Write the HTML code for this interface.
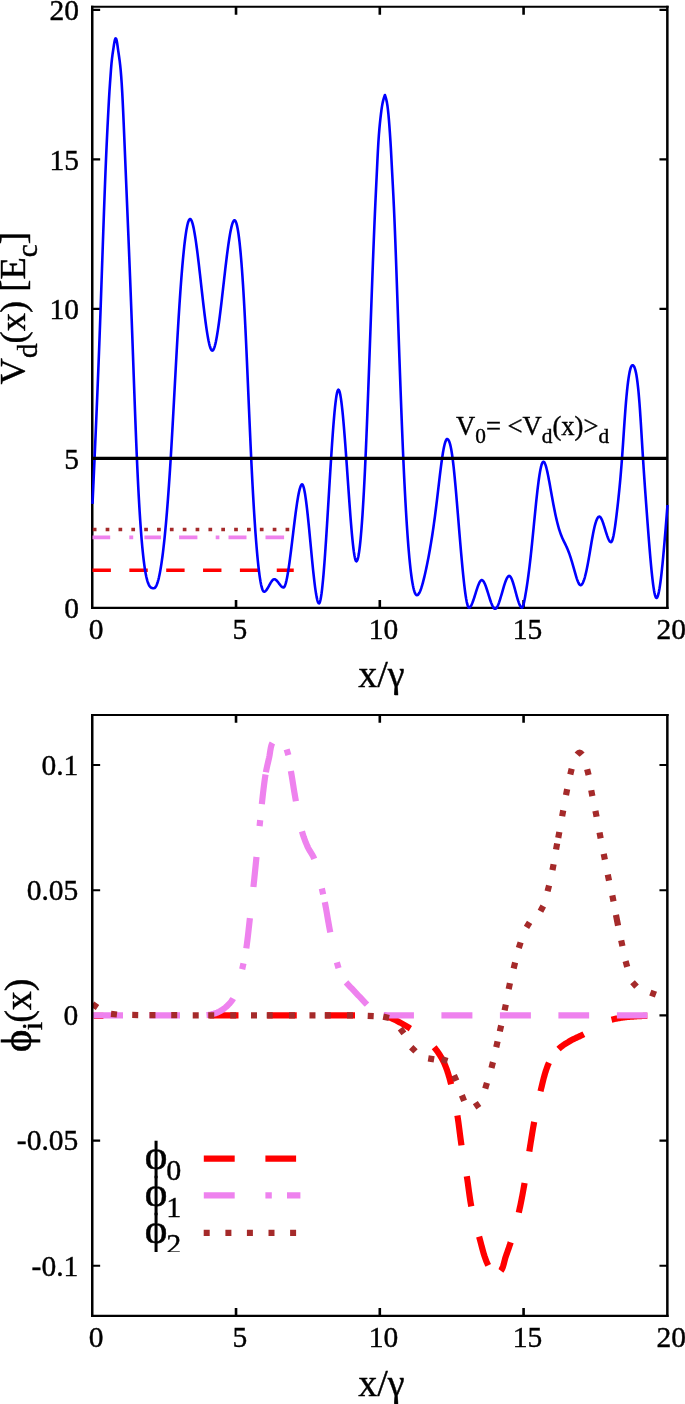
<!DOCTYPE html>
<html><head><meta charset="utf-8"><title>plot</title>
<style>html,body{margin:0;padding:0;background:#fff}svg{display:block}text{font-family:"Liberation Serif","DejaVu Serif",serif;fill:#000;stroke:#000;stroke-width:0.4px}</style></head><body>
<svg width="685" height="1404" viewBox="0 0 685 1404">
<rect width="685" height="1404" fill="#fff"/>
<g id="top">
<path d="M236.03 607.9v-7.9M236.03 6.75v7.9M379.8 607.9v-7.9M379.8 6.75v7.9M523.58 607.9v-7.9M523.58 6.75v7.9" stroke="#000" stroke-width="2.6" fill="none"/><path d="M92.25 458.4h7.9M667.35 458.4h-7.9M92.25 308.9h7.9M667.35 308.9h-7.9M92.25 159.4h7.9M667.35 159.4h-7.9M92.25 9.9h7.9M667.35 9.9h-7.9" stroke="#000" stroke-width="2.1" fill="none"/>
<path d="M92.25 5.7V608.95M667.35 5.7V608.95" stroke="#000" stroke-width="2.5" fill="none"/><path d="M91 6.75H668.6M91 607.9H668.6" stroke="#000" stroke-width="2.1" fill="none"/>
<path d="M92.5 570.23H293.75" stroke="#ff0000" stroke-width="3.6" stroke-dasharray="18.4 18.45" fill="none"/>
<path d="M92.5 537.34H110.2M129.3 537.34H133.2M144.4 537.34H161M179.1 537.34H197.4M215.7 537.34H219.4M228.5 537.34H246.5M265.5 537.34H284.1" stroke="#ee82ee" stroke-width="3.6" fill="none"/>
<path d="M92.8 529.56H293.75" stroke="#a52a2a" stroke-width="3.6" stroke-dasharray="3.7 9.15" fill="none"/>
<path d="M92.5 503.9 L93 492.9 L93.5 481.88 L94 470.82 L94.5 459.68 L95 448.44 L95.5 437.09 L96 425.58 L96.5 413.92 L97 402.06 L97.5 389.98 L98 377.66 L98.5 365.08 L99 352.21 L99.5 339.03 L100 325.51 L100.5 311.63 L101 297.45 L101.5 283.04 L102 268.52 L102.5 253.97 L103 239.49 L103.5 225.18 L104 211.14 L104.5 197.45 L105 184.22 L105.5 171.53 L106 159.5 L106.5 148.17 L107 137.47 L107.5 127.29 L108 117.5 L108.5 108 L109 98.81 L109.5 90.54 L110 83.28 L110.5 76.29 L111 69.43 L111.5 63.39 L112 58.6 L112.5 54.7 L113 51.25 L113.5 47.84 L114 44.5 L114.5 41.6 L115 39.49 L115.5 38.4 L115.7 38.3 L116.2 38.88 L116.7 40.6 L117.2 43.41 L117.7 46.95 L118.2 50.62 L118.7 54.06 L119.2 57.48 L119.7 61.17 L120.2 65.4 L120.7 70.43 L121.2 76.41 L121.7 83.49 L122.2 91.86 L122.7 101.62 L123.2 112.39 L123.7 123.73 L124.2 135.47 L124.7 147.44 L125.2 159.5 L125.7 171.51 L126.2 183.47 L126.7 195.41 L127.2 207.36 L127.7 219.34 L128.2 231.4 L128.7 243.54 L129.2 255.81 L129.7 268.23 L130.2 280.83 L130.7 293.64 L131.2 306.69 L131.7 320 L132.2 333.59 L132.7 347.38 L133.2 361.28 L133.7 375.19 L134.2 389.03 L134.7 402.69 L135.2 416.09 L135.7 429.13 L136.2 441.72 L136.7 453.76 L137.2 465.16 L137.7 475.91 L138.2 486.01 L138.7 495.48 L139.2 504.35 L139.7 512.64 L140.2 520.36 L140.7 527.54 L141.2 534.19 L141.7 540.33 L142.2 546 L142.7 551.19 L143.2 555.94 L143.7 560.27 L144.2 564.19 L144.7 567.73 L145.2 570.9 L145.7 573.72 L146.2 576.22 L146.7 578.42 L147.2 580.32 L147.7 581.97 L148.2 583.36 L148.7 584.53 L149.2 585.5 L149.7 586.28 L150.2 586.89 L150.7 587.36 L151.2 587.7 L151.7 587.93 L152.2 588.08 L152.7 588.16 L153.2 588.19 L153.7 588.2 L153.9 588.2 L154.4 588.1 L154.9 587.79 L155.4 587.27 L155.9 586.54 L156.4 585.59 L156.9 584.43 L157.4 583.05 L157.9 581.45 L158.4 579.62 L158.9 577.57 L159.4 575.3 L159.9 572.79 L160.4 570.06 L160.9 567.08 L161.4 563.88 L161.9 560.43 L162.4 556.74 L162.9 552.82 L163.4 548.64 L163.9 544.22 L164.4 539.55 L164.9 534.63 L165.4 529.45 L165.9 524.02 L166.4 518.33 L166.9 512.38 L167.4 506.16 L167.9 499.68 L168.4 492.94 L168.9 485.92 L169.4 478.63 L169.9 471.07 L170.4 463.24 L170.9 455.12 L171.4 446.74 L171.9 438.13 L172.4 429.33 L172.9 420.37 L173.4 411.29 L173.9 402.12 L174.4 392.9 L174.9 383.67 L175.4 374.46 L175.9 365.3 L176.4 356.24 L176.9 347.31 L177.4 338.54 L177.9 329.97 L178.4 321.64 L178.9 313.57 L179.4 305.79 L179.9 298.3 L180.4 291.11 L180.9 284.22 L181.4 277.64 L181.9 271.37 L182.4 265.42 L182.9 259.81 L183.4 254.52 L183.9 249.58 L184.4 244.98 L184.9 240.73 L185.4 236.85 L185.9 233.32 L186.4 230.17 L186.9 227.4 L187.4 225.01 L187.9 223.01 L188.4 221.41 L188.9 220.21 L189.4 219.41 L189.9 219.03 L190.1 219 L190.6 219.2 L191.1 219.78 L191.6 220.74 L192.1 222.04 L192.6 223.68 L193.1 225.62 L193.6 227.86 L194.1 230.38 L194.6 233.16 L195.1 236.17 L195.6 239.41 L196.1 242.85 L196.6 246.47 L197.1 250.26 L197.6 254.2 L198.1 258.26 L198.6 262.44 L199.1 266.71 L199.6 271.05 L200.1 275.45 L200.6 279.88 L201.1 284.34 L201.6 288.79 L202.1 293.23 L202.6 297.64 L203.1 301.98 L203.6 306.26 L204.1 310.44 L204.6 314.52 L205.1 318.46 L205.6 322.26 L206.1 325.9 L206.6 329.35 L207.1 332.61 L207.6 335.65 L208.1 338.46 L208.6 341.03 L209.1 343.32 L209.6 345.34 L210.1 347.05 L210.6 348.45 L211.1 349.51 L211.6 350.22 L212.1 350.57 L212.3 350.6 L212.8 350.41 L213.3 349.83 L213.8 348.9 L214.3 347.63 L214.8 346.04 L215.3 344.13 L215.8 341.94 L216.3 339.48 L216.8 336.76 L217.3 333.81 L217.8 330.64 L218.3 327.27 L218.8 323.72 L219.3 320 L219.8 316.13 L220.3 312.14 L220.8 308.03 L221.3 303.82 L221.8 299.55 L222.3 295.21 L222.8 290.83 L223.3 286.43 L223.8 282.03 L224.3 277.64 L224.8 273.28 L225.3 268.97 L225.8 264.73 L226.3 260.57 L226.8 256.52 L227.3 252.59 L227.8 248.8 L228.3 245.16 L228.8 241.7 L229.3 238.44 L229.8 235.38 L230.3 232.55 L230.8 229.97 L231.3 227.66 L231.8 225.63 L232.3 223.89 L232.8 222.48 L233.3 221.4 L233.8 220.68 L234.3 220.33 L234.5 220.3 L235 220.51 L235.5 221.14 L236 222.2 L236.5 223.68 L237 225.61 L237.5 227.98 L238 230.79 L238.5 234.06 L239 237.78 L239.5 241.97 L240 246.62 L240.5 251.75 L241 257.35 L241.5 263.44 L242 270.01 L242.5 277.08 L243 284.65 L243.5 292.72 L244 301.3 L244.5 310.39 L245 320 L245.5 330.12 L246 340.69 L246.5 351.63 L247 362.87 L247.5 374.32 L248 385.92 L248.5 397.58 L249 409.22 L249.5 420.78 L250 432.18 L250.5 443.33 L251 454.17 L251.5 464.62 L252 474.64 L252.5 484.24 L253 493.42 L253.5 502.18 L254 510.52 L254.5 518.45 L255 525.96 L255.5 533.05 L256 539.73 L256.5 546.01 L257 551.87 L257.5 557.32 L258 562.37 L258.5 567.01 L259 571.24 L259.5 575.08 L260 578.51 L260.5 581.54 L261 584.18 L261.5 586.42 L262 588.26 L262.5 589.7 L263 590.76 L263.5 591.42 L264 591.69 L264.1 591.7 L264.6 591.61 L265.1 591.36 L265.6 590.97 L266.1 590.45 L266.6 589.82 L267.1 589.09 L267.6 588.29 L268.1 587.44 L268.6 586.55 L269.1 585.63 L269.6 584.72 L270.1 583.81 L270.6 582.94 L271.1 582.12 L271.6 581.36 L272.1 580.69 L272.6 580.13 L273.1 579.68 L273.6 579.37 L274.1 579.21 L274.3 579.2 L274.8 579.27 L275.3 579.47 L275.8 579.79 L276.3 580.21 L276.8 580.71 L277.3 581.27 L277.8 581.89 L278.3 582.54 L278.8 583.21 L279.3 583.89 L279.8 584.55 L280.3 585.19 L280.8 585.77 L281.3 586.3 L281.8 586.75 L282.3 587.11 L282.8 587.36 L283.3 587.49 L283.5 587.5 L284 587.28 L284.5 586.64 L285 585.6 L285.5 584.18 L286 582.41 L286.5 580.32 L287 577.92 L287.5 575.25 L288 572.32 L288.5 569.15 L289 565.79 L289.5 562.24 L290 558.53 L290.5 554.68 L291 550.73 L291.5 546.69 L292 542.59 L292.5 538.44 L293 534.29 L293.5 530.14 L294 526.03 L294.5 521.97 L295 518 L295.5 514.13 L296 510.39 L296.5 506.81 L297 503.4 L297.5 500.2 L298 497.22 L298.5 494.49 L299 492.04 L299.5 489.88 L300 488.05 L300.5 486.56 L301 485.44 L301.5 484.71 L302 484.41 L302.1 484.4 L302.6 484.71 L303.1 485.6 L303.6 487.05 L304.1 489.01 L304.6 491.44 L305.1 494.32 L305.6 497.6 L306.1 501.24 L306.6 505.22 L307.1 509.49 L307.6 514.01 L308.1 518.75 L308.6 523.67 L309.1 528.74 L309.6 533.91 L310.1 539.15 L310.6 544.43 L311.1 549.7 L311.6 554.93 L312.1 560.09 L312.6 565.13 L313.1 570.02 L313.6 574.72 L314.1 579.19 L314.6 583.4 L315.1 587.31 L315.6 590.89 L316.1 594.09 L316.6 596.88 L317.1 599.23 L317.6 601.09 L318.1 602.42 L318.6 603.2 L319 603.4 L319.5 602.99 L320 601.77 L320.5 599.8 L321 597.12 L321.5 593.77 L322 589.79 L322.5 585.22 L323 580.12 L323.5 574.52 L324 568.46 L324.5 561.99 L325 555.15 L325.5 547.98 L326 540.54 L326.5 532.85 L327 524.96 L327.5 516.93 L328 508.78 L328.5 500.56 L329 492.32 L329.5 484.09 L330 475.93 L330.5 467.87 L331 459.96 L331.5 452.24 L332 444.76 L332.5 437.55 L333 430.67 L333.5 424.17 L334 418.09 L334.5 412.47 L335 407.36 L335.5 402.8 L336 398.85 L336.5 395.54 L337 392.93 L337.5 391.06 L338 389.97 L338.4 389.7 L338.9 390.07 L339.4 391.17 L339.9 392.95 L340.4 395.38 L340.9 398.4 L341.4 401.99 L341.9 406.09 L342.4 410.68 L342.9 415.7 L343.4 421.13 L343.9 426.91 L344.4 433.02 L344.9 439.4 L345.4 446.02 L345.9 452.83 L346.4 459.81 L346.9 466.89 L347.4 474.05 L347.9 481.22 L348.4 488.38 L348.9 495.46 L349.4 502.42 L349.9 509.21 L350.4 515.8 L350.9 522.12 L351.4 528.15 L351.9 533.81 L352.4 539.09 L352.9 543.91 L353.4 548.24 L353.9 552.04 L354.4 555.25 L354.9 557.83 L355.4 559.72 L355.9 560.9 L356.4 561.3 L356.9 560.98 L357.4 560.02 L357.9 558.42 L358.4 556.2 L358.9 553.34 L359.4 549.86 L359.9 545.76 L360.4 541.04 L360.9 535.7 L361.4 529.75 L361.9 523.2 L362.4 516.04 L362.9 508.29 L363.4 499.93 L363.9 490.98 L364.4 481.44 L364.9 471.32 L365.4 460.61 L365.9 449.33 L366.4 437.52 L366.9 425.23 L367.4 412.54 L367.9 399.49 L368.4 386.16 L368.9 372.59 L369.4 358.86 L369.9 345.01 L370.4 331.11 L370.9 317.23 L371.4 303.41 L371.9 289.72 L372.4 276.22 L372.9 262.97 L373.4 250.02 L373.9 237.45 L374.4 225.3 L374.9 213.64 L375.4 202.52 L375.9 191.89 L376.4 181.53 L376.9 171.24 L377.4 160.8 L377.9 150.7 L378.4 142 L378.9 134.75 L379.4 128.69 L379.9 123.45 L380.4 118.69 L380.9 114.29 L381.4 110.34 L381.9 106.9 L382.4 104.02 L382.9 101.63 L383.4 99.63 L383.9 97.92 L384.4 96.41 L384.9 95 L385.4 96.44 L385.9 98.04 L386.4 99.97 L386.9 102.38 L387.4 105.45 L387.9 109.33 L388.4 114.07 L388.9 119.66 L389.4 126.06 L389.9 133.13 L390.4 140.69 L390.9 148.93 L391.4 158.21 L391.9 167.88 L392.4 177.3 L392.9 186.73 L393.4 196.49 L393.9 206.9 L394.4 218.22 L394.9 230.39 L395.4 243.28 L395.9 256.78 L396.4 270.74 L396.9 285.04 L397.4 299.56 L397.9 314.16 L398.4 328.73 L398.9 343.17 L399.4 357.46 L399.9 371.53 L400.4 385.36 L400.9 398.89 L401.4 412.09 L401.9 424.91 L402.4 437.3 L402.9 449.23 L403.4 460.64 L403.9 471.52 L404.4 481.86 L404.9 491.67 L405.4 500.98 L405.9 509.77 L406.4 518.08 L406.9 525.89 L407.4 533.23 L407.9 540.11 L408.4 546.53 L408.9 552.5 L409.4 558.03 L409.9 563.14 L410.4 567.83 L410.9 572.11 L411.4 575.99 L411.9 579.49 L412.4 582.61 L412.9 585.35 L413.4 587.74 L413.9 589.78 L414.4 591.47 L414.9 592.84 L415.4 593.89 L415.9 594.62 L416.4 595.06 L416.9 595.2 L417.4 595.09 L417.9 594.79 L418.4 594.28 L418.9 593.59 L419.4 592.73 L419.9 591.7 L420.4 590.51 L420.9 589.18 L421.4 587.72 L421.9 586.12 L422.4 584.41 L422.9 582.59 L423.4 580.68 L423.9 578.67 L424.4 576.59 L424.9 574.44 L425.4 572.23 L425.9 569.96 L426.4 567.63 L426.9 565.23 L427.4 562.78 L427.9 560.25 L428.4 557.66 L428.9 555 L429.4 552.26 L429.9 549.45 L430.4 546.57 L430.9 543.6 L431.4 540.55 L431.9 537.42 L432.4 534.2 L432.9 530.88 L433.4 527.46 L433.9 523.94 L434.4 520.3 L434.9 516.55 L435.4 512.69 L435.9 508.74 L436.4 504.71 L436.9 500.6 L437.4 496.43 L437.9 492.2 L438.4 487.93 L438.9 483.66 L439.4 479.41 L439.9 475.21 L440.4 471.1 L440.9 467.11 L441.4 463.28 L441.9 459.63 L442.4 456.2 L442.9 453.03 L443.4 450.13 L443.9 447.52 L444.4 445.23 L444.9 443.27 L445.4 441.65 L445.9 440.4 L446.4 439.54 L446.9 439.08 L447.2 439 L447.7 439.15 L448.2 439.6 L448.7 440.37 L449.2 441.46 L449.7 442.89 L450.2 444.67 L450.7 446.8 L451.2 449.31 L451.7 452.2 L452.2 455.48 L452.7 459.17 L453.2 463.26 L453.7 467.71 L454.2 472.5 L454.7 477.58 L455.2 482.91 L455.7 488.46 L456.2 494.19 L456.7 500.06 L457.2 506.04 L457.7 512.09 L458.2 518.16 L458.7 524.24 L459.2 530.3 L459.7 536.31 L460.2 542.26 L460.7 548.11 L461.2 553.85 L461.7 559.45 L462.2 564.88 L462.7 570.12 L463.2 575.15 L463.7 579.93 L464.2 584.44 L464.7 588.64 L465.2 592.5 L465.7 595.99 L466.2 599.08 L466.7 601.74 L467.2 603.95 L467.7 605.66 L468.2 606.85 L468.7 607.49 L469 607.6 L469.5 607.48 L470 607.12 L470.5 606.56 L471 605.8 L471.5 604.86 L472 603.78 L472.5 602.56 L473 601.22 L473.5 599.79 L474 598.29 L474.5 596.73 L475 595.14 L475.5 593.53 L476 591.92 L476.5 590.34 L477 588.8 L477.5 587.33 L478 585.93 L478.5 584.64 L479 583.47 L479.5 582.44 L480 581.58 L480.5 580.89 L481 580.41 L481.5 580.14 L481.8 580.1 L482.3 580.22 L482.8 580.56 L483.3 581.11 L483.8 581.85 L484.3 582.76 L484.8 583.82 L485.3 585.02 L485.8 586.33 L486.3 587.73 L486.8 589.22 L487.3 590.76 L487.8 592.35 L488.3 593.96 L488.8 595.58 L489.3 597.19 L489.8 598.76 L490.3 600.28 L490.8 601.74 L491.3 603.11 L491.8 604.38 L492.3 605.52 L492.8 606.52 L493.3 607.37 L493.8 608.03 L494.3 608.5 L494.8 608.76 L495.1 608.8 L495.6 608.68 L496.1 608.33 L496.6 607.76 L497.1 607 L497.6 606.06 L498.1 604.97 L498.6 603.72 L499.1 602.36 L499.6 600.89 L500.1 599.32 L500.6 597.69 L501.1 596 L501.6 594.27 L502.1 592.52 L502.6 590.78 L503.1 589.05 L503.6 587.35 L504.1 585.7 L504.6 584.12 L505.1 582.63 L505.6 581.24 L506.1 579.97 L506.6 578.84 L507.1 577.87 L507.6 577.07 L508.1 576.47 L508.6 576.07 L509.1 575.9 L509.2 575.9 L509.7 576.04 L510.2 576.45 L510.7 577.1 L511.2 577.98 L511.7 579.06 L512.2 580.31 L512.7 581.71 L513.2 583.25 L513.7 584.9 L514.2 586.63 L514.7 588.43 L515.2 590.27 L515.7 592.12 L516.2 593.97 L516.7 595.8 L517.2 597.57 L517.7 599.27 L518.2 600.88 L518.7 602.37 L519.2 603.71 L519.7 604.9 L520.2 605.9 L520.7 606.69 L521.2 607.24 L521.7 607.55 L522 607.6 L522.5 607.23 L523 606.18 L523.5 604.57 L524 602.5 L524.5 600.07 L525 597.4 L525.5 594.57 L526 591.61 L526.5 588.49 L527 585.23 L527.5 581.82 L528 578.26 L528.5 574.54 L529 570.65 L529.5 566.61 L530 562.39 L530.5 558.01 L531 553.46 L531.5 548.74 L532 543.89 L532.5 538.93 L533 533.9 L533.5 528.82 L534 523.72 L534.5 518.63 L535 513.58 L535.5 508.6 L536 503.72 L536.5 498.97 L537 494.37 L537.5 489.97 L538 485.78 L538.5 481.85 L539 478.2 L539.5 474.86 L540 471.85 L540.5 469.19 L541 466.91 L541.5 465.01 L542 463.52 L542.5 462.46 L543 461.85 L543.4 461.7 L543.9 461.9 L544.4 462.47 L544.9 463.39 L545.4 464.63 L545.9 466.16 L546.4 467.94 L546.9 469.95 L547.4 472.15 L547.9 474.53 L548.4 477.04 L548.9 479.66 L549.4 482.35 L549.9 485.1 L550.4 487.88 L550.9 490.67 L551.4 493.47 L551.9 496.26 L552.4 499.03 L552.9 501.76 L553.4 504.45 L553.9 507.06 L554.4 509.61 L554.9 512.06 L555.4 514.43 L555.9 516.72 L556.4 518.91 L556.9 521.02 L557.4 523.03 L557.9 524.95 L558.4 526.78 L558.9 528.52 L559.4 530.16 L559.9 531.7 L560.4 533.15 L560.9 534.51 L561.4 535.79 L561.9 537 L562.4 538.16 L562.9 539.27 L563.4 540.33 L563.9 541.38 L564.4 542.4 L564.9 543.42 L565.4 544.44 L565.9 545.47 L566.4 546.53 L566.9 547.62 L567.4 548.76 L567.9 549.95 L568.4 551.21 L568.9 552.54 L569.4 553.93 L569.9 555.38 L570.4 556.88 L570.9 558.44 L571.4 560.04 L571.9 561.69 L572.4 563.37 L572.9 565.08 L573.4 566.82 L573.9 568.59 L574.4 570.37 L574.9 572.15 L575.4 573.92 L575.9 575.64 L576.4 577.28 L576.9 578.84 L577.4 580.28 L577.9 581.58 L578.4 582.72 L578.9 583.68 L579.4 584.42 L579.9 584.93 L580.4 585.18 L580.6 585.2 L581.1 585.08 L581.6 584.72 L582.1 584.13 L582.6 583.32 L583.1 582.3 L583.6 581.07 L584.1 579.65 L584.6 578.04 L585.1 576.26 L585.6 574.3 L586.1 572.19 L586.6 569.92 L587.1 567.51 L587.6 564.97 L588.1 562.3 L588.6 559.52 L589.1 556.64 L589.6 553.7 L590.1 550.72 L590.6 547.73 L591.1 544.76 L591.6 541.82 L592.1 538.95 L592.6 536.18 L593.1 533.53 L593.6 531.02 L594.1 528.69 L594.6 526.55 L595.1 524.6 L595.6 522.85 L596.1 521.31 L596.6 519.97 L597.1 518.86 L597.6 517.96 L598.1 517.28 L598.6 516.83 L599.1 516.62 L599.3 516.6 L599.8 516.74 L600.3 517.13 L600.8 517.75 L601.3 518.59 L601.8 519.61 L602.3 520.79 L602.8 522.1 L603.3 523.53 L603.8 525.05 L604.3 526.63 L604.8 528.25 L605.3 529.89 L605.8 531.52 L606.3 533.13 L606.8 534.67 L607.3 536.14 L607.8 537.5 L608.3 538.74 L608.8 539.82 L609.3 540.74 L609.8 541.45 L610.3 541.94 L610.8 542.18 L611 542.2 L611.5 541.92 L612 541.09 L612.5 539.76 L613 537.96 L613.5 535.74 L614 533.12 L614.5 530.14 L615 526.84 L615.5 523.26 L616 519.43 L616.5 515.4 L617 511.19 L617.5 506.85 L618 502.38 L618.5 497.76 L619 492.94 L619.5 487.92 L620 482.64 L620.5 477.08 L621 471.21 L621.5 465 L622 458.4 L622.5 451.4 L623 444.11 L623.5 436.67 L624 429.21 L624.5 421.87 L625 414.79 L625.5 408.1 L626 401.91 L626.5 396.25 L627 391.09 L627.5 386.43 L628 382.27 L628.5 378.58 L629 375.36 L629.5 372.61 L630 370.3 L630.5 368.44 L631 367.01 L631.5 366 L632 365.4 L632.5 365.2 L633 365.32 L633.5 365.71 L634 366.4 L634.5 367.43 L635 368.83 L635.5 370.62 L636 372.86 L636.5 375.56 L637 378.76 L637.5 382.5 L638 386.81 L638.5 391.73 L639 397.28 L639.5 403.5 L640 410.4 L640.5 417.85 L641 425.72 L641.5 433.85 L642 442.11 L642.5 450.34 L643 458.4 L643.5 466.18 L644 473.68 L644.5 480.96 L645 488.05 L645.5 494.99 L646 501.82 L646.5 508.6 L647 515.34 L647.5 522.04 L648 528.65 L648.5 535.15 L649 541.51 L649.5 547.69 L650 553.67 L650.5 559.42 L651 564.89 L651.5 570.07 L652 574.91 L652.5 579.4 L653 583.48 L653.5 587.13 L654 590.31 L654.5 592.98 L655 595.13 L655.5 596.7 L656 597.67 L656.5 598 L657 597.72 L657.5 596.88 L658 595.52 L658.5 593.67 L659 591.34 L659.5 588.57 L660 585.37 L660.5 581.79 L661 577.84 L661.5 573.54 L662 568.94 L662.5 564.04 L663 558.88 L663.5 553.49 L664 547.89 L664.5 542.1 L665 536.16 L665.5 530.08 L666 523.9 L666.5 517.65 L667 511.34 L667.5 505" stroke="#0000ff" stroke-width="2.6" fill="none" stroke-linejoin="round"/>
<path d="M92.25 458.4H667.35" stroke="#000" stroke-width="3.4" fill="none"/>
<text x="79.1" y="618" font-size="29.5" text-anchor="end">0</text>
<text x="79.1" y="468.5" font-size="29.5" text-anchor="end">5</text>
<text x="79.1" y="319" font-size="29.5" text-anchor="end">10</text>
<text x="79.1" y="169.5" font-size="29.5" text-anchor="end">15</text>
<text x="79.1" y="20" font-size="29.5" text-anchor="end">20</text>
<text x="96.05" y="639.3" font-size="29.5" text-anchor="middle">0</text>
<text x="239.83" y="639.3" font-size="29.5" text-anchor="middle">5</text>
<text x="383.6" y="639.3" font-size="29.5" text-anchor="middle">10</text>
<text x="527.38" y="639.3" font-size="29.5" text-anchor="middle">15</text>
<text x="671.15" y="639.3" font-size="29.5" text-anchor="middle">20</text>
<text x="381.5" y="687.2" font-size="38" text-anchor="middle">x/γ</text>
<text transform="translate(25 308.3) rotate(-90)" font-size="36.5" text-anchor="middle">V<tspan dy="11.5" font-size="29.2">d</tspan><tspan dy="-11.5">(x) [E</tspan><tspan dy="11.5" font-size="29.2">c</tspan><tspan dy="-11.5">]</tspan></text>
<text x="456" y="434.5" font-size="26.6">V<tspan dy="8" font-size="21.3">0</tspan><tspan dy="-8">= &lt;V</tspan><tspan dy="8" font-size="21.3">d</tspan><tspan dy="-8">(x)&gt;</tspan><tspan dy="8" font-size="21.3">d</tspan></text>
</g>
<g id="bottom">
<path d="M236.03 1315.85v-7.9M236.03 714.95v7.9M379.8 1315.85v-7.9M379.8 714.95v7.9M523.58 1315.85v-7.9M523.58 714.95v7.9" stroke="#000" stroke-width="2.6" fill="none"/><path d="M92.25 765.02h7.9M667.35 765.02h-7.9M92.25 890.21h7.9M667.35 890.21h-7.9M92.25 1015.4h7.9M667.35 1015.4h-7.9M92.25 1140.59h7.9M667.35 1140.59h-7.9M92.25 1265.78h7.9M667.35 1265.78h-7.9" stroke="#000" stroke-width="2.1" fill="none"/>
<clipPath id="cb"><rect x="92.4" y="700" width="580" height="630"/></clipPath><g clip-path="url(#cb)">
<path d="M93.8 1015.9H103.4M209.5 1015.4 L210.5 1015.4 L211.5 1015.4 L212.5 1015.4 L213.5 1015.4 L214.5 1015.4 L215.5 1015.4 L216.5 1015.4 L217.5 1015.4 L218.5 1015.4 L219.5 1015.4 L220.5 1015.4 L221.5 1015.4 L222.5 1015.4 L223.5 1015.4 L224.5 1015.4 L225.5 1015.4 L226.5 1015.4 L227.5 1015.4 L228.5 1015.4 L229.5 1015.4 L230.5 1015.4 L231.5 1015.4 L232.5 1015.4 L233.5 1015.4 L234.5 1015.4 L235.5 1015.4 L236.5 1015.4 L237.5 1015.4 L238.5 1015.4M267.25 1015.4 L268.25 1015.4 L269.25 1015.4 L270.25 1015.4 L271.25 1015.4 L272.25 1015.4 L273.25 1015.4 L274.25 1015.4 L275.25 1015.4 L276.25 1015.4 L277.25 1015.4 L278.25 1015.4 L279.25 1015.4 L280.25 1015.4 L281.25 1015.4 L282.25 1015.4 L283.25 1015.4 L284.25 1015.4 L285.25 1015.4 L286.25 1015.4 L287.25 1015.4 L288.25 1015.4 L289.25 1015.4 L290.25 1015.4 L291.25 1015.4 L292.25 1015.4 L293.25 1015.4 L294.25 1015.4 L295.25 1015.4 L296.25 1015.4 L296.75 1015.4M325 1015.4 L326 1015.4 L327 1015.4 L328 1015.4 L329 1015.4 L330 1015.4 L331 1015.4 L332 1015.4 L333 1015.4 L334 1015.4 L335 1015.4 L336 1015.4 L337 1015.4 L338 1015.4 L339 1015.4 L340 1015.4 L341 1015.4 L342 1015.4 L343 1015.4 L344 1015.4 L345 1015.4 L346 1015.4 L347 1015.4 L348 1015.4 L349 1015.4 L350 1015.4 L351 1015.4 L352 1015.4 L353 1015.4 L354 1015.4 L355 1015.4M384.21 1015.6 L385.18 1015.8 L386.14 1016.07 L387.09 1016.4 L388.04 1016.77 L388.99 1017.18 L389.92 1017.6 L390.86 1018.02 L391.78 1018.41 L392.7 1018.79 L393.61 1019.19 L394.52 1019.62 L395.41 1020.06 L396.31 1020.52 L397.2 1020.99 L398.08 1021.46 L398.96 1021.94 L399.84 1022.41 L400.72 1022.89 L401.59 1023.37 L402.47 1023.86 L403.34 1024.36 L404.2 1024.86 L405.07 1025.36 L405.93 1025.88 L406.79 1026.39 L407.64 1026.92 L408.49 1027.44 L409.33 1027.98 L410.17 1028.52 L410.38 1028.65M434.15 1047.34 L434.77 1048.08 L435.39 1048.83 L436.01 1049.61 L436.61 1050.4 L437.21 1051.2 L437.8 1052.02 L438.38 1052.84 L438.95 1053.69 L439.51 1054.54 L440.05 1055.4 L440.59 1056.27 L441.11 1057.14 L441.62 1058.03 L442.11 1058.91 L442.59 1059.8 L443.05 1060.7 L443.5 1061.6 L443.93 1062.5 L444.34 1063.39 L444.74 1064.29 L445.12 1065.19 L445.49 1066.11 L445.85 1067.02 L446.21 1067.95 L446.55 1068.89 L446.88 1069.83 L447.21 1070.77 L447.53 1071.72 L447.84 1072.68 L448.15 1073.64 L448.44 1074.6 L448.73 1075.57 L449.02 1076.54 L449.3 1077.51 L449.57 1078.48 L449.84 1079.46 L450.1 1080.43 L450.36 1081.4 L450.61 1082.37 L450.86 1083.34 L451.1 1084.31M457.39 1115.43 L457.55 1116.41 L457.7 1117.4 L457.85 1118.39 L458 1119.38 L458.14 1120.37 L458.28 1121.36 L458.42 1122.35 L458.56 1123.34 L458.69 1124.33 L458.82 1125.32 L458.95 1126.31 L459.08 1127.3 L459.21 1128.3 L459.34 1129.29 L459.46 1130.28 L459.59 1131.27 L459.71 1132.27 L459.84 1133.26 L459.96 1134.25 L460.09 1135.24 L460.22 1136.24 L460.34 1137.23 L460.47 1138.22 L460.61 1139.21 L460.74 1140.2 L460.88 1141.19 L461.01 1142.19 L461.16 1143.18 L461.3 1144.16 L461.45 1145.15 L461.48 1145.4M466.8 1176.2 L466.96 1177.18 L467.11 1178.17 L467.26 1179.16 L467.4 1180.15 L467.55 1181.14 L467.69 1182.13 L467.83 1183.12 L467.97 1184.12 L468.1 1185.11 L468.24 1186.1 L468.37 1187.09 L468.51 1188.09 L468.64 1189.08 L468.77 1190.07 L468.91 1191.06 L469.04 1192.06 L469.18 1193.05 L469.32 1194.04 L469.46 1195.03 L469.6 1196.02 L469.74 1197.01 L469.89 1198 L470.04 1198.99 L470.19 1199.97 L470.35 1200.96 L470.51 1201.94 L470.68 1202.93 L470.85 1203.91 L471.02 1204.89 L471.2 1205.87 L471.29 1206.36M479.11 1236.62 L479.38 1237.58 L479.65 1238.55 L479.91 1239.53 L480.17 1240.5 L480.43 1241.48 L480.69 1242.47 L480.95 1243.45 L481.21 1244.44 L481.47 1245.43 L481.73 1246.41 L481.99 1247.4 L482.25 1248.39 L482.52 1249.37 L482.79 1250.36 L483.07 1251.34 L483.35 1252.31 L483.63 1253.28 L483.93 1254.25 L484.23 1255.21 L484.53 1256.17 L484.85 1257.11 L485.17 1258.05 L485.51 1258.99 L485.85 1259.91 L486.21 1260.83 L486.57 1261.73 L486.95 1262.62 L487.34 1263.51 L487.75 1264.38 L488.17 1265.24 L488.27 1265.45M500.85 1270.86 L501.34 1270.21 L501.78 1269.49 L502.18 1268.69 L502.55 1267.83 L502.89 1266.91 L503.21 1265.95 L503.5 1264.95 L503.79 1263.93 L504.06 1262.88 L504.32 1261.83 L504.59 1260.77 L504.86 1259.72 L505.13 1258.68 L505.42 1257.67 L505.73 1256.7 L506.06 1255.75 L506.39 1254.81 L506.72 1253.86 L507.05 1252.92 L507.38 1251.98 L507.72 1251.03 L508.05 1250.09 L508.38 1249.15 L508.71 1248.2 L509.04 1247.26 L509.36 1246.31 L509.68 1245.36 L510 1244.41 L510.3 1243.46 L510.6 1242.51 L510.68 1242.27M518.78 1212.61 L519 1211.63 L519.21 1210.66 L519.43 1209.69 L519.64 1208.71 L519.86 1207.73 L520.07 1206.76 L520.27 1205.78 L520.48 1204.8 L520.68 1203.82 L520.88 1202.84 L521.08 1201.86 L521.28 1200.88 L521.47 1199.9 L521.67 1198.92 L521.86 1197.93 L522.05 1196.95 L522.24 1195.97 L522.42 1194.98 L522.61 1194 L522.79 1193.02 L522.97 1192.03 L523.15 1191.05 L523.33 1190.06 L523.51 1189.08 L523.68 1188.09 L523.86 1187.11 L524.03 1186.12 L524.2 1185.14 L524.37 1184.15 L524.54 1183.17 L524.58 1182.92M529.3 1151.52 L529.45 1150.53 L529.61 1149.55 L529.76 1148.56 L529.92 1147.57 L530.07 1146.58 L530.23 1145.59 L530.38 1144.61 L530.54 1143.62 L530.7 1142.63 L530.85 1141.64 L531.01 1140.65 L531.17 1139.67 L531.33 1138.68 L531.48 1137.69 L531.64 1136.7 L531.81 1135.72 L531.97 1134.73 L532.13 1133.74 L532.29 1132.76 L532.46 1131.77 L532.62 1130.78 L532.79 1129.8 L532.96 1128.81 L533.13 1127.83 L533.3 1126.84 L533.47 1125.86 L533.65 1124.87 L533.82 1123.89 L534 1122.91 L534.18 1121.92M540.5 1091.32 L540.73 1090.35 L540.97 1089.37 L541.2 1088.39 L541.44 1087.41 L541.67 1086.43 L541.91 1085.45 L542.15 1084.46 L542.39 1083.47 L542.63 1082.49 L542.88 1081.5 L543.12 1080.51 L543.38 1079.53 L543.63 1078.54 L543.89 1077.56 L544.16 1076.59 L544.43 1075.61 L544.7 1074.64 L544.99 1073.67 L545.28 1072.71 L545.57 1071.75 L545.88 1070.8 L546.19 1069.85 L546.51 1068.91 L546.83 1067.98 L547.17 1067.06 L547.52 1066.14 L547.87 1065.23 L548.24 1064.33 L548.62 1063.44 L548.91 1062.78M558.53 1049.07 L559.22 1048.41 L559.95 1047.76 L560.71 1047.13 L561.49 1046.51 L562.29 1045.91 L563.11 1045.32 L563.95 1044.74 L564.79 1044.18 L565.65 1043.63 L566.52 1043.08 L567.39 1042.55 L568.25 1042.03 L569.12 1041.52 L569.98 1041.01 L570.84 1040.52 L571.71 1040.04 L572.59 1039.58 L573.49 1039.13 L574.38 1038.7 L575.29 1038.27 L576.2 1037.84 L577.11 1037.42 L578.02 1037 L578.93 1036.58 L579.84 1036.16 L580.75 1035.73 L581.65 1035.29 L582.55 1034.85 L583.44 1034.39 L583.88 1034.16M611.54 1019.69 L612.49 1019.46 L613.45 1019.24 L614.41 1019.03 L615.38 1018.83 L616.36 1018.64 L617.34 1018.45 L618.33 1018.27 L619.32 1018.1 L620.32 1017.94 L621.32 1017.79 L622.32 1017.64 L623.32 1017.5 L624.32 1017.38 L625.32 1017.25 L626.33 1017.14 L627.33 1017.04 L628.33 1016.94 L629.32 1016.85 L630.32 1016.78 L631.31 1016.7 L632.31 1016.62 L633.3 1016.55 L634.3 1016.47 L635.29 1016.4 L636.29 1016.33 L637.29 1016.27 L638.29 1016.21 L639.28 1016.15 L640.28 1016.1 L641.28 1016.05 L642.28 1016.01 L643.29 1015.97 L644.29 1015.94 L645.29 1015.92 L646.29 1015.91 L647.3 1015.9" stroke="#ff0000" stroke-width="6.2" fill="none" stroke-linejoin="round"/>
<path d="M93 1015.4 L94 1015.4 L95 1015.4 L96 1015.4 L97.01 1015.4 L98.01 1015.4 L99.01 1015.4 L100.01 1015.4 L101.01 1015.4 L102.01 1015.4 L103.01 1015.4 L104.01 1015.4 L105.01 1015.4 L106.01 1015.4 L107.02 1015.4 L108.02 1015.4 L109.02 1015.4 L110.02 1015.4 L111.02 1015.4 L112.02 1015.4 L113.02 1015.4 L114.02 1015.4 L115.02 1015.4 L116.02 1015.4 L117.02 1015.4 L118.02 1015.4 L119.02 1015.4 L120.02 1015.4 L121.02 1015.4 L122.03 1015.4 L123.03 1015.4M149.53 1015.4 L150.53 1015.4 L151.53 1015.4 L152.53 1015.4 L153.53 1015.4 L154.53 1015.4 L155.53 1015.4 L156.53 1015.4 L157.53 1015.4 L158.53 1015.4 L159.53 1015.4 L160.53 1015.4 L161.53 1015.4 L162.53 1015.4 L163.52 1015.4 L164.52 1015.4 L165.52 1015.4 L166.52 1015.4 L167.52 1015.4 L168.52 1015.4 L169.52 1015.4 L170.52 1015.4 L171.52 1015.4 L172.52 1015.4 L173.52 1015.4 L174.52 1015.4 L175.52 1015.4 L176.52 1015.4 L177.52 1015.4 L178.52 1015.4 L179.52 1015.4 L180.02 1015.4M206.5 1015.09 L207.49 1015.01 L208.48 1014.91 L209.47 1014.76 L210.46 1014.58 L211.45 1014.37 L212.43 1014.13 L213.4 1013.87 L214.36 1013.59 L215.3 1013.31 L216.23 1012.98 L217.16 1012.6 L218.08 1012.18 L218.99 1011.73 L219.89 1011.25 L220.76 1010.75 L221.61 1010.24 L222.44 1009.71 L223.26 1009.15 L224.06 1008.55 L224.85 1007.92 L225.62 1007.26 L226.37 1006.58 L227.1 1005.89 L227.81 1005.19 L228.51 1004.49 L229.2 1003.76 L229.9 1003.01 L230.58 1002.25 L231.23 1001.47 L231.84 1000.67 L232.41 999.85 L232.92 999.02 L233.15 998.6M246.29 948.37 L246.44 947.39 L246.58 946.4 L246.72 945.41 L246.86 944.42 L246.99 943.43 L247.12 942.44 L247.25 941.45 L247.37 940.46 L247.5 939.46 L247.62 938.47 L247.74 937.48 L247.85 936.49 L247.97 935.49 L248.08 934.5 L248.2 933.5 L248.31 932.51 L248.42 931.51 L248.53 930.52 L248.64 929.52 L248.74 928.53 L248.85 927.53 L248.96 926.54 L249.07 925.55 L249.18 924.55 L249.29 923.56 L249.4 922.56 L249.51 921.57 L249.62 920.57 L249.73 919.58 L249.84 918.58 L249.9 918.09M253.41 887.04 L253.51 886.04 L253.62 885.05 L253.73 884.05 L253.83 883.06 L253.93 882.06 L254.04 881.07 L254.14 880.07 L254.25 879.08 L254.35 878.08 L254.45 877.09 L254.55 876.1 L254.66 875.1 L254.76 874.11 L254.86 873.11 L254.96 872.12 L255.06 871.12 L255.16 870.13 L255.26 869.13 L255.36 868.14 L255.47 867.14 L255.57 866.15 L255.67 865.15 L255.77 864.16 L255.87 863.16 L255.97 862.17 L256.07 861.17 L256.17 860.18 L256.27 859.18 L256.37 858.19 L256.47 857.19 L256.5 856.94M261.81 804.21 L261.92 803.22 L262.03 802.22 L262.14 801.23 L262.25 800.23 L262.36 799.24 L262.47 798.24 L262.58 797.25 L262.69 796.25 L262.8 795.26 L262.92 794.26 L263.03 793.27 L263.14 792.27 L263.26 791.28 L263.38 790.29 L263.49 789.29 L263.61 788.3 L263.74 787.3 L263.86 786.31 L263.98 785.32 L264.11 784.33 L264.24 783.33 L264.37 782.34 L264.51 781.35 L264.64 780.36 L264.78 779.37 L264.93 778.38 L265.07 777.4 L265.22 776.41 L265.38 775.42 L265.53 774.44M265.9 772.23 L266.08 771.24 L266.27 770.26 L266.47 769.28 L266.67 768.31 L266.89 767.33 L267.1 766.35 L267.32 765.37 L267.55 764.4 L267.78 763.42 L268 762.45 L268.23 761.47 L268.46 760.5 L268.69 759.52 L268.91 758.55 L269.13 757.57 L269.33 756.56 L269.53 755.52 L269.71 754.44 L269.88 753.34 L270.05 752.23 L270.22 751.12 L270.4 750.03 L270.59 748.95 L270.78 747.91 L271 746.91 L271.24 745.97 L271.5 745.09 L271.79 744.28 L272.12 743.56 L272.48 742.93M290.89 770.91 L291.05 771.9 L291.22 772.89 L291.39 773.87 L291.55 774.86 L291.72 775.84 L291.88 776.83 L292.04 777.82 L292.2 778.81 L292.36 779.79 L292.52 780.78 L292.68 781.77 L292.83 782.76 L292.99 783.74 L293.15 784.73 L293.31 785.72 L293.46 786.71 L293.62 787.69 L293.78 788.68 L293.94 789.67 L294.1 790.66 L294.26 791.64 L294.42 792.63 L294.59 793.62 L294.75 794.6 L294.92 795.59 L295.08 796.57 L295.25 797.56 L295.43 798.54 L295.6 799.53 L295.78 800.51 L295.91 801.25M302 831.39 L302.26 832.35 L302.54 833.31 L302.83 834.26 L303.13 835.21 L303.45 836.17 L303.77 837.12 L304.11 838.06 L304.45 839.01 L304.8 839.95 L305.16 840.89 L305.53 841.82 L305.91 842.75 L306.29 843.68 L306.68 844.6 L307.07 845.52 L307.47 846.43 L307.89 847.33 L308.34 848.22 L308.82 849.1 L309.32 849.97 L309.84 850.84 L310.37 851.71 L310.91 852.57 L311.44 853.43 L311.96 854.29 L312.46 855.16 L312.94 856.04 L313.4 856.92 L313.82 857.81 L314.19 858.72 L314.28 858.95M324.81 902.17 L325.01 903.16 L325.2 904.14 L325.39 905.12 L325.57 906.1 L325.76 907.08 L325.94 908.07 L326.11 909.05 L326.29 910.04 L326.46 911.02 L326.64 912.01 L326.81 912.99 L326.98 913.98 L327.15 914.96 L327.32 915.95 L327.49 916.94 L327.66 917.92 L327.83 918.91 L327.99 919.89 L328.16 920.88 L328.34 921.86 L328.51 922.85 L328.68 923.84 L328.86 924.82 L329.03 925.8 L329.21 926.79 L329.39 927.77 L329.57 928.75 L329.76 929.74 L329.95 930.72 L330.14 931.7 L330.29 932.43M346.03 982.43 L346.72 983.16 L347.4 983.88 L348.09 984.61 L348.78 985.34 L349.46 986.06 L350.15 986.79 L350.84 987.52 L351.52 988.24 L352.21 988.97 L352.9 989.7 L353.59 990.42 L354.27 991.15 L354.96 991.87 L355.65 992.6 L356.34 993.33 L357.02 994.05 L357.71 994.78 L358.4 995.51 L359.08 996.24 L359.77 996.97 L360.45 997.69 L361.14 998.42 L361.82 999.15 L362.51 999.88 L363.2 1000.6 L363.88 1001.33 L364.57 1002.06 L365.26 1002.78 L365.95 1003.51 L366.64 1004.23 L366.99 1004.59M383.7 1015.07 L384.67 1015.15 L385.66 1015.21 L386.65 1015.26 L387.66 1015.31 L388.66 1015.34 L389.67 1015.37 L390.68 1015.39 L391.69 1015.4 L392.69 1015.4 L393.68 1015.4 L394.68 1015.4 L395.68 1015.4 L396.68 1015.4 L397.68 1015.4 L398.68 1015.4 L399.68 1015.4 L400.68 1015.4 L401.68 1015.4 L402.68 1015.4 L403.68 1015.4 L404.68 1015.4 L405.68 1015.4 L406.68 1015.4 L407.68 1015.4 L408.68 1015.4 L409.68 1015.4 L410.68 1015.4 L411.68 1015.4 L412.68 1015.4 L413.68 1015.4 L413.93 1015.4M441.42 1015.4 L442.41 1015.4 L443.41 1015.4 L444.41 1015.4 L445.41 1015.4 L446.41 1015.4 L447.41 1015.4 L448.41 1015.4 L449.41 1015.4 L450.41 1015.4 L451.41 1015.4 L452.41 1015.4 L453.41 1015.4 L454.41 1015.4 L455.41 1015.4 L456.41 1015.4 L457.41 1015.4 L458.41 1015.4 L459.41 1015.4 L460.41 1015.4 L461.41 1015.4 L462.41 1015.4 L463.41 1015.4 L464.41 1015.4 L465.41 1015.4 L466.41 1015.4 L467.41 1015.4 L468.41 1015.4 L469.41 1015.4 L470.41 1015.4 L471.41 1015.4 L472.41 1015.4M499.9 1015.4 L500.9 1015.4 L501.9 1015.4 L502.9 1015.4 L503.9 1015.4 L504.9 1015.4 L505.9 1015.4 L506.9 1015.4 L507.9 1015.4 L508.9 1015.4 L509.9 1015.4 L510.9 1015.4 L511.9 1015.4 L512.9 1015.4 L513.9 1015.4 L514.9 1015.4 L515.9 1015.4 L516.9 1015.4 L517.9 1015.4 L518.9 1015.4 L519.9 1015.4 L520.9 1015.4 L521.9 1015.4 L522.9 1015.4 L523.9 1015.4 L524.9 1015.4 L525.9 1015.4 L526.9 1015.4 L527.9 1015.4 L528.9 1015.4 L529.9 1015.4 L530.9 1015.4M558.4 1015.4 L559.4 1015.4 L560.4 1015.4 L561.4 1015.4 L562.4 1015.4 L563.4 1015.4 L564.4 1015.4 L565.4 1015.4 L566.4 1015.4 L567.4 1015.4 L568.4 1015.4 L569.4 1015.4 L570.4 1015.4 L571.4 1015.4 L572.4 1015.4 L573.4 1015.4 L574.4 1015.4 L575.4 1015.4 L576.4 1015.4 L577.4 1015.4 L578.4 1015.4 L579.4 1015.4 L580.4 1015.4 L581.4 1015.4 L582.4 1015.4 L583.4 1015.4 L584.4 1015.4 L585.4 1015.4 L586.4 1015.4 L587.4 1015.4 L588.4 1015.4 L589.15 1015.4M616.91 1015.4 L617.91 1015.4 L618.91 1015.4 L619.91 1015.4 L620.91 1015.4 L621.91 1015.4 L622.91 1015.4 L623.92 1015.4 L624.92 1015.4 L625.92 1015.4 L626.92 1015.4 L627.92 1015.4 L628.92 1015.4 L629.92 1015.4 L630.92 1015.4 L631.92 1015.4 L632.92 1015.4 L633.92 1015.4 L634.92 1015.4 L635.92 1015.4 L636.92 1015.4 L637.92 1015.4 L638.92 1015.4 L639.92 1015.4 L640.92 1015.4 L641.92 1015.4 L642.92 1015.4 L643.93 1015.4 L644.93 1015.4 L645.93 1015.4 L646.93 1015.4 L647.43 1015.4M242.17 969.22 L243.47 963.36M259.59 826.1 L260.19 820.13M286.67 749.33 L288.39 755.08M321.82 888.5 L323.14 894.35M336.85 962.48 L338.53 968.24" stroke="#ee82ee" stroke-width="6.2" fill="none" stroke-linejoin="round"/>
<path d="M92.52 1004.15 L97.51 1007.47M111 1013.89 L116.96 1014.52M132.22 1014.94 L138.22 1015.05M149.47 1015.2 L155.47 1015.2M171.22 1015.19 L177.22 1015.21M192.72 1015.4 L198.72 1015.4M208.22 1015.4 L214.22 1015.4M230.22 1015.4 L236.22 1015.4M250.97 1015.4 L256.97 1015.4M266.72 1015.4 L272.72 1015.4M288.97 1015.4 L294.97 1015.4M309.47 1015.4 L315.47 1015.4M324.72 1015.4 L330.72 1015.4M346.97 1015.39 L352.97 1015.41M367.71 1015.86 L373.71 1016.13M383.23 1016.64 L389.09 1017.94M400.24 1028.61 L403.92 1033.34M411.23 1047.17 L415.51 1051.38M428.21 1058.4 L434.13 1059.42M441.77 1059.29 L447.5 1061.08M453.99 1075.25 L456.41 1080.74M461.86 1095.25 L464.09 1100.83M474.6 1106.92 L479.54 1103.52M485.23 1088.52 L486.94 1082.77M491.47 1067.95 L492.96 1062.14M496.24 1047.24 L497.55 1041.39M499.82 1031.39 L501.15 1025.54M504.6 1010.43 L505.81 1004.55M508.68 989.06 L509.95 983.2M513.64 968.4 L515.11 962.58M518.8 948.04 L520.61 942.32M526.47 927.38 L529.61 922.27M540.46 911.32 L543.27 906.02M547.57 891.33 L549.07 885.52M552.46 870.14 L553.59 864.25M556.06 849.45 L557.14 843.55M558.24 837.91 L559.34 832.01M562.15 816.26 L563.22 810.35M566.01 795.1 L567.17 789.22M570.3 774.55 L571.68 768.71M587.13 769.19 L588.61 775M591.24 790.28 L592.37 796.18M595.42 810.87 L596.58 816.75M599.54 832.48 L600.67 838.37M603.72 853.82 L604.87 859.71M607.79 874.68 L609.01 880.55M612.32 895.44 L613.51 901.32M615.95 914.85 L618.07 925.65M621.19 940.32 L622.43 946.19M625.6 961.11 L627.2 966.89M632.52 982.2 L636.53 986.66M650.31 992.62 L655.93 994.72" stroke="#a52a2a" stroke-width="6.2" fill="none" stroke-linejoin="round"/>
<path d="M574.6 752.5Q579.6 746.6 584.6 752.5L579.6 756.8Z" fill="#a52a2a"/>
</g>
<path d="M203.8 1158.6H234.7M265.4 1158.6H296.1" stroke="#ff0000" stroke-width="6.2" fill="none"/>
<path d="M203.8 1195.4H234.7M265.4 1195.4H271.8M287 1195.4H300.4" stroke="#ee82ee" stroke-width="6.2" fill="none"/>
<path d="M203.7 1232.8h6M225.4 1232.8h6M246.9 1232.8h6M268.5 1232.8h6M290.1 1232.8h6" stroke="#a52a2a" stroke-width="6.2" fill="none"/>
<clipPath id="cl"><rect x="100" y="1140.8" width="120" height="111.2"/></clipPath>
<text x="144.8" y="1169.3" font-size="43" clip-path="url(#cl)"><tspan stroke="#000" stroke-width="0.55">ϕ</tspan><tspan dx="-1.1" dy="11" font-size="30">0</tspan></text>
<text x="144.8" y="1206.3" font-size="43" clip-path="url(#cl)"><tspan stroke="#000" stroke-width="0.55">ϕ</tspan><tspan dx="-1.1" dy="11" font-size="30">1</tspan></text>
<text x="144.8" y="1243.3" font-size="43" clip-path="url(#cl)"><tspan stroke="#000" stroke-width="0.55">ϕ</tspan><tspan dx="-1.1" dy="11" font-size="30">2</tspan></text>
<path d="M92.25 713.9V1316.9M667.35 713.9V1316.9" stroke="#000" stroke-width="2.5" fill="none"/><path d="M91 714.95H668.6M91 1315.85H668.6" stroke="#000" stroke-width="2.1" fill="none"/>
<text x="78.3" y="774.92" font-size="29.5" text-anchor="end">0.1</text>
<text x="78.3" y="900.11" font-size="29.5" text-anchor="end">0.05</text>
<text x="78.3" y="1025.3" font-size="29.5" text-anchor="end">0</text>
<text x="78.3" y="1150.49" font-size="29.5" text-anchor="end">-0.05</text>
<text x="78.3" y="1275.68" font-size="29.5" text-anchor="end">-0.1</text>
<text x="96.05" y="1347.3" font-size="29.5" text-anchor="middle">0</text>
<text x="239.83" y="1347.3" font-size="29.5" text-anchor="middle">5</text>
<text x="383.6" y="1347.3" font-size="29.5" text-anchor="middle">10</text>
<text x="527.38" y="1347.3" font-size="29.5" text-anchor="middle">15</text>
<text x="671.15" y="1347.3" font-size="29.5" text-anchor="middle">20</text>
<text x="381.5" y="1395.5" font-size="38" text-anchor="middle">x/γ</text>
<text transform="translate(31.4 1052.2) rotate(-90)" font-size="38"><tspan font-size="43" stroke="#000" stroke-width="0.55">ϕ</tspan><tspan dx="-0.7" dy="11" font-size="30.4">i</tspan><tspan dx="-1" dy="-11">(x)</tspan></text>
</g>
</svg></body></html>
